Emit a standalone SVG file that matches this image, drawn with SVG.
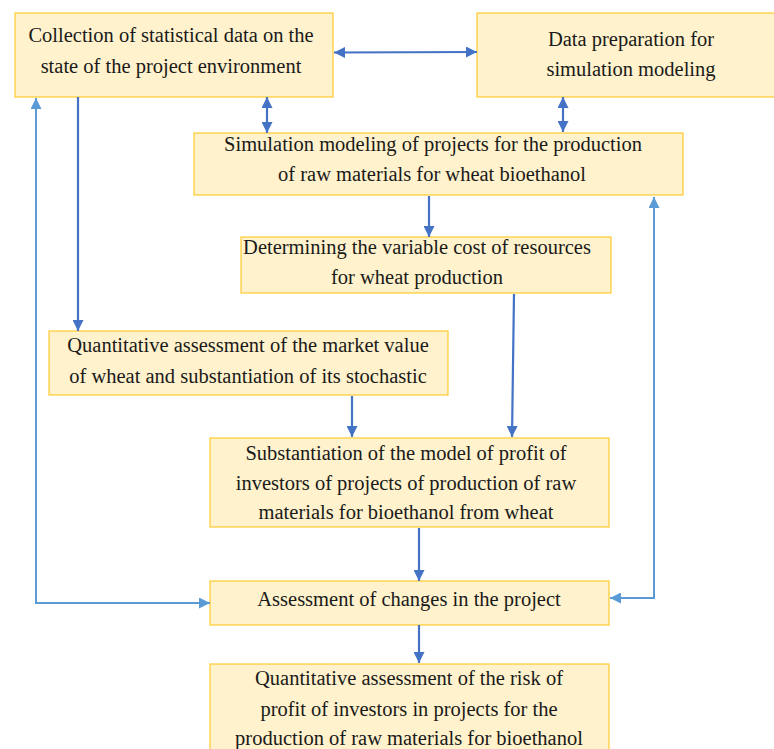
<svg xmlns="http://www.w3.org/2000/svg" width="774" height="749" viewBox="0 0 774 749">
<style>
.box{fill:#FFF2CC;stroke:#FFC000;stroke-opacity:0.75;stroke-width:1.3}
.t{font-family:"Liberation Serif",serif;font-size:20.5px;fill:#1a1a1a;text-anchor:middle}
.d{fill:none;stroke:#4472C4;stroke-width:2.2}
.l{fill:none;stroke:#5B9BD5;stroke-width:2}
</style>
<defs>
<marker id="ad" viewBox="0 0 10 10" refX="10" refY="5" markerWidth="5" markerHeight="5" orient="auto-start-reverse" markerUnits="strokeWidth"><path d="M0,0 L10,5 L0,10 z" fill="#4472C4"/></marker>
<marker id="al" viewBox="0 0 10 10" refX="10" refY="5" markerWidth="5.5" markerHeight="5.5" orient="auto-start-reverse" markerUnits="strokeWidth"><path d="M0,0 L10,5 L0,10 z" fill="#5B9BD5"/></marker>
</defs>
<rect width="774" height="749" fill="#fff"/>
<g id="n1"><rect class="box" x="15" y="13" width="318" height="84"/>
<text class="t" x="171" y="42">Collection of statistical data on the</text>
<text class="t" x="171" y="73">state of the project environment</text></g>
<g id="n2"><rect class="box" x="477" y="13" width="300" height="84"/>
<text class="t" x="631" y="46">Data preparation for</text>
<text class="t" x="631" y="76">simulation modeling</text></g>
<g id="n3"><rect class="box" x="194" y="133" width="489" height="62"/>
<text class="t" x="433" y="151">Simulation modeling of projects for the production</text>
<text class="t" x="432" y="181">of raw materials for wheat bioethanol</text></g>
<g id="n4"><rect class="box" x="241" y="237" width="370" height="56"/>
<text class="t" x="417" y="254">Determining the variable cost of resources</text>
<text class="t" x="417" y="284">for wheat production</text></g>
<g id="n5"><rect class="box" x="49" y="331" width="399" height="64"/>
<text class="t" x="248" y="352">Quantitative assessment of the market value</text>
<text class="t" x="248" y="383">of wheat and substantiation of its stochastic</text></g>
<g id="n6"><rect class="box" x="210" y="438" width="399" height="89"/>
<text class="t" x="406" y="460">Substantiation of the model of profit of</text>
<text class="t" x="406" y="490">investors of projects of production of raw</text>
<text class="t" x="406" y="519">materials for bioethanol from wheat</text></g>
<g id="n7"><rect class="box" x="210" y="581" width="399" height="44"/>
<text class="t" x="409" y="606">Assessment of changes in the project</text></g>
<g id="n8"><rect class="box" x="210" y="664" width="399" height="100"/>
<text class="t" x="409" y="685">Quantitative assessment of the risk of</text>
<text class="t" x="409" y="716">profit of investors in projects for the</text>
<text class="t" x="409" y="745">production of raw materials for bioethanol</text></g>
<g id="connectors">
<line class="d" x1="334" y1="52.5" x2="477" y2="52" marker-start="url(#ad)" marker-end="url(#ad)"/>
<line class="d" x1="267" y1="97" x2="267" y2="133" marker-start="url(#ad)" marker-end="url(#ad)"/>
<line class="d" x1="563" y1="97" x2="563" y2="132" marker-start="url(#ad)" marker-end="url(#ad)"/>
<line class="d" x1="78" y1="97" x2="78" y2="331" marker-end="url(#ad)"/>
<line class="d" x1="429" y1="196" x2="429" y2="237" marker-end="url(#ad)"/>
<line class="d" x1="514" y1="294" x2="512" y2="437" marker-end="url(#ad)"/>
<line class="d" x1="352" y1="396" x2="352" y2="437" marker-end="url(#ad)"/>
<line class="d" x1="419" y1="528" x2="419" y2="581" marker-end="url(#ad)"/>
<line class="d" x1="419" y1="625" x2="419" y2="663" marker-end="url(#ad)"/>
<polyline class="l" points="36,98 36,603 210,603" marker-start="url(#al)" marker-end="url(#al)"/>
<polyline class="l" points="610,598 654,598 654,197" marker-start="url(#al)" marker-end="url(#al)"/>
</g>
</svg>
